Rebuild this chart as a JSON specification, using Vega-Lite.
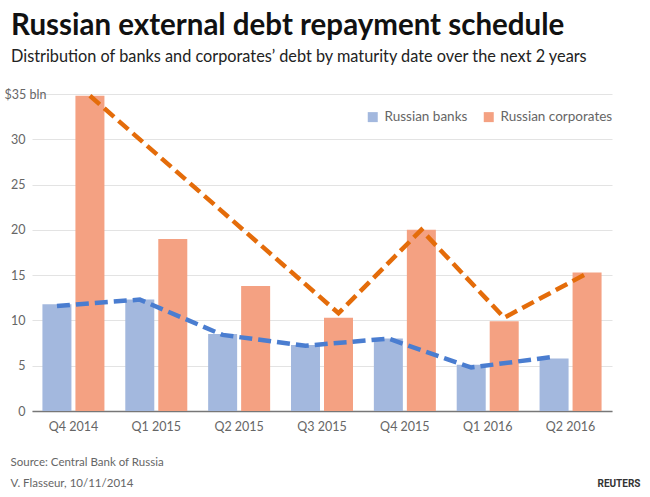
{
  "$schema": "https://vega.github.io/schema/vega-lite/v6.json",
  "width": 580,
  "height": 317,
  "autosize": {"type": "none"},
  "padding": {"left": 32, "top": 94, "right": 38, "bottom": 86},
  "background": "white",
  "title": {
    "text": "Russian external debt repayment schedule",
    "subtitle": "Distribution of banks and corporates’ debt by maturity date over the next 2 years",
    "anchor": "start",
    "frame": "group",
    "dx": -21,
    "offset": 21,
    "font": "Lato",
    "fontSize": 29.5,
    "fontWeight": "bold",
    "color": "#111111",
    "subtitleFont": "Lato",
    "subtitleFontSize": 16.3,
    "subtitleColor": "#222222",
    "subtitlePadding": 7
  },
  "config": {"font": "Lato", "view": {"stroke": null}},
  "datasets": {
    "bars": [
      {"quarter": "Q4 2014", "series": "Russian banks", "value": 11.8},
      {"quarter": "Q4 2014", "series": "Russian corporates", "value": 34.8},
      {"quarter": "Q1 2015", "series": "Russian banks", "value": 12.3},
      {"quarter": "Q1 2015", "series": "Russian corporates", "value": 19.0},
      {"quarter": "Q2 2015", "series": "Russian banks", "value": 8.5},
      {"quarter": "Q2 2015", "series": "Russian corporates", "value": 13.8},
      {"quarter": "Q3 2015", "series": "Russian banks", "value": 7.3},
      {"quarter": "Q3 2015", "series": "Russian corporates", "value": 10.3},
      {"quarter": "Q4 2015", "series": "Russian banks", "value": 8.0},
      {"quarter": "Q4 2015", "series": "Russian corporates", "value": 20.0},
      {"quarter": "Q1 2016", "series": "Russian banks", "value": 5.1},
      {"quarter": "Q1 2016", "series": "Russian corporates", "value": 9.9},
      {"quarter": "Q2 2016", "series": "Russian banks", "value": 5.8},
      {"quarter": "Q2 2016", "series": "Russian corporates", "value": 15.3}
    ],
    "trend": [
      {"quarter": "Q4 2014", "series": "Russian banks", "value": 11.6},
      {"quarter": "Q1 2015", "series": "Russian banks", "value": 12.3},
      {"quarter": "Q2 2015", "series": "Russian banks", "value": 8.4},
      {"quarter": "Q3 2015", "series": "Russian banks", "value": 7.2},
      {"quarter": "Q4 2015", "series": "Russian banks", "value": 8.0},
      {"quarter": "Q1 2016", "series": "Russian banks", "value": 4.8},
      {"quarter": "Q2 2016", "series": "Russian banks", "value": 6.0},
      {"quarter": "Q4 2014", "series": "Russian corporates", "value": 34.8},
      {"quarter": "Q3 2015", "series": "Russian corporates", "value": 10.8},
      {"quarter": "Q4 2015", "series": "Russian corporates", "value": 20.0},
      {"quarter": "Q1 2016", "series": "Russian corporates", "value": 10.3},
      {"quarter": "Q2 2016", "series": "Russian corporates", "value": 15.2}
    ]
  },
  "layer": [
    {
      "data": {"name": "bars"},
      "mark": {"type": "bar"},
      "encoding": {
        "x": {
          "field": "quarter",
          "type": "nominal",
          "sort": ["Q4 2014", "Q1 2015", "Q2 2015", "Q3 2015", "Q4 2015", "Q1 2016", "Q2 2016"],
          "scale": {"paddingInner": 0, "paddingOuter": 0},
          "axis": {
            "title": ["Source: Central Bank of Russia", "V. Flasseur, 10/11/2014"],
            "titleX": -22,
            "titleY": 54,
            "titleAlign": "left",
            "titleAnchor": "start",
            "titleBaseline": "alphabetic",
            "titleFontSize": 11.5,
            "titleFontWeight": "normal",
            "titleColor": "#666666",
            "titleLineHeight": 21,
            "labelAngle": 0,
            "labelColor": "#666666",
            "labelFontSize": 12.5,
            "labelPadding": 9,
            "ticks": false,
            "domainColor": "#777777",
            "domainWidth": 1.5,
            "grid": false
          }
        },
        "xOffset": {
          "field": "series",
          "type": "nominal",
          "sort": ["Russian banks", "Russian corporates"],
          "scale": {"paddingInner": 0.121, "paddingOuter": 0.316}
        },
        "y": {
          "field": "value",
          "type": "quantitative",
          "scale": {"domain": [0, 35], "nice": false},
          "axis": {
            "title": "REUTERS",
            "titleAngle": 0,
            "titleX": 608,
            "titleY": 392,
            "titleAlign": "right",
            "titleBaseline": "alphabetic",
            "titleFont": "Roboto",
            "titleFontSize": 10,
            "titleFontWeight": "bold",
            "titleColor": "#333333",
            "values": [0, 5, 10, 15, 20, 25, 30, 35],
            "labelExpr": "datum.value == 35 ? '$35 bln' : datum.label",
            "labelAlign": {"condition": {"test": "datum.value == 35", "value": "center"}, "value": "right"},
            "labelPadding": 7,
            "labelColor": "#666666",
            "labelFontSize": 12.5,
            "domain": false,
            "ticks": false,
            "gridColor": "#e3e3e3",
            "gridWidth": 1
          }
        },
        "color": {
          "field": "series",
          "type": "nominal",
          "scale": {"domain": ["Russian banks", "Russian corporates"], "range": ["#a3b8de", "#f4a182"]},
          "legend": {
            "title": null,
            "orient": "none",
            "legendX": 334,
            "legendY": 16,
            "direction": "horizontal",
            "symbolType": "square",
            "symbolSize": 100,
            "symbolStrokeWidth": 0,
            "labelFontSize": 13.5,
            "labelColor": "#666666",
            "labelOffset": 5,
            "columnPadding": 14
          }
        }
      }
    },
    {
      "data": {"name": "trend"},
      "mark": {"type": "line", "strokeDash": [13, 6], "strokeWidth": 4.5},
      "encoding": {
        "x": {
          "field": "quarter",
          "type": "nominal",
          "sort": ["Q4 2014", "Q1 2015", "Q2 2015", "Q3 2015", "Q4 2015", "Q1 2016", "Q2 2016"]
        },
        "xOffset": {
          "field": "series",
          "type": "nominal",
          "sort": ["Russian banks", "Russian corporates"]
        },
        "y": {"field": "value", "type": "quantitative"},
        "stroke": {
          "field": "series",
          "type": "nominal",
          "scale": {"domain": ["Russian banks", "Russian corporates"], "range": ["#4a7dd0", "#e46c0a"]},
          "legend": null
        }
      }
    }
  ]
}
